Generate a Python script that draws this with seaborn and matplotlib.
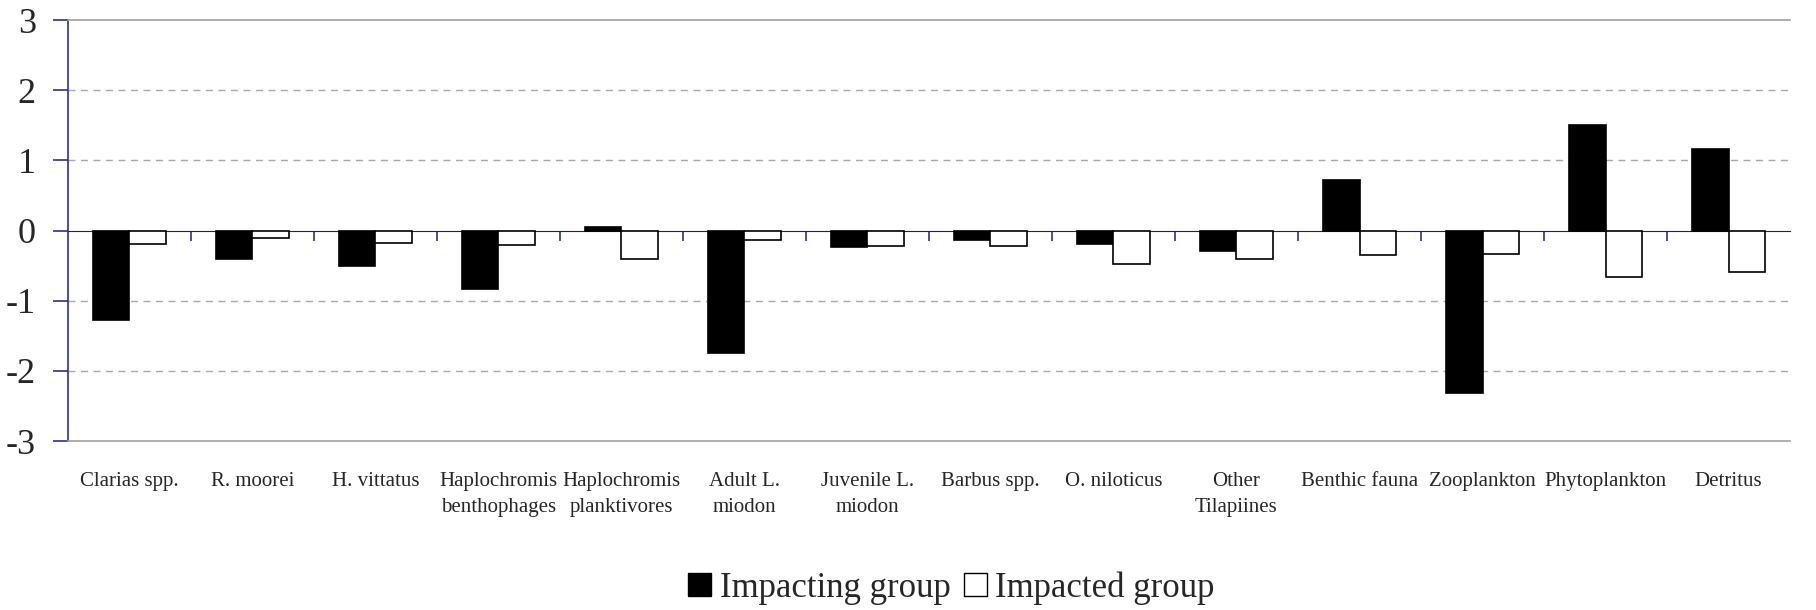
import matplotlib
matplotlib.use("Agg")
import matplotlib.pyplot as plt
import seaborn as sns
import pandas as pd
from matplotlib.patches import Patch

categories = ["Clarias spp.", "R. moorei", "H. vittatus", "Haplochromis\nbenthophages",
              "Haplochromis\nplanktivores", "Adult L.\nmiodon", "Juvenile L.\nmiodon",
              "Barbus spp.", "O. niloticus", "Other\nTilapiines", "Benthic fauna",
              "Zooplankton", "Phytoplankton", "Detritus"]
impacting = [-1.28, -0.41, -0.50, -0.83, 0.05, -1.75, -0.23, -0.13, -0.19, -0.29, 0.72, -2.31, 1.50, 1.17]
impacted = [-0.19, -0.10, -0.17, -0.21, -0.41, -0.14, -0.22, -0.22, -0.47, -0.41, -0.35, -0.33, -0.66, -0.59]
series_names = ["Impacting group", "Impacted group"]
yticks = [-3, -2, -1, 0, 1, 2, 3]

df = pd.DataFrame({
    "category": categories * 2,
    "value": impacting + impacted,
    "group": [series_names[0]] * len(categories) + [series_names[1]] * len(categories),
})

sns.set_style("white")
plt.rcParams["font.family"] = ["Liberation Serif", "DejaVu Serif"]

fig = plt.figure(figsize=(18.16, 6.10), dpi=100)
ax = fig.add_axes([0.0374, 0.277, 0.9483, 0.690])

sns.barplot(data=df, x="category", y="value", hue="group", order=categories,
            hue_order=series_names, palette=["black", "white"], edgecolor="black",
            linewidth=1.2, width=0.6, ax=ax, legend=False, zorder=3)

ax.set_ylim(-3, 3)
ax.set_xlim(-0.5, len(categories) - 0.5)
ax.set_yticks(yticks)
ax.set_yticklabels([str(t) for t in yticks], fontsize=26)
ax.set_xlabel("")
ax.set_ylabel("")

# grid
for t in yticks:
    if t not in (0, -3, 3):
        ax.axhline(t, color="#a8a8a8", lw=1.0, ls=(0, (5, 4)), zorder=1)

# spines
ax.spines["left"].set_color("#2e2e96")
ax.spines["left"].set_linewidth(1.2)
ax.spines["top"].set_color("#a0a0a0")
ax.spines["bottom"].set_color("#a0a0a0")
ax.spines["top"].set_linewidth(1.2)
ax.spines["bottom"].set_linewidth(1.2)
ax.spines["right"].set_visible(False)

ax.tick_params(axis="y", direction="out", length=11, width=1.2, color="#2e2e96", pad=12, left=True)
ax.tick_params(axis="x", length=0, pad=22, labelsize=15)
for lab in ax.get_xticklabels():
    lab.set_linespacing(1.55)
    lab.set_verticalalignment("top")

# zero line with category-boundary ticks
sec = ax.secondary_xaxis(0.5)
sec.set_xticks([i + 0.5 for i in range(len(categories) - 1)])
sec.set_xticklabels([])
sec.tick_params(direction="in", length=7, width=1.2, color="#2e2e96")
sec.spines["bottom"].set_color("#6a6ac4")
sec.spines["bottom"].set_linewidth(1.3)
sec.spines["bottom"].set_zorder(5)

handles = [Patch(facecolor="black", edgecolor="black", label=series_names[0]),
           Patch(facecolor="white", edgecolor="black", label=series_names[1])]
fig.legend(handles=handles, loc="center", bbox_to_anchor=(0.524, 0.036), ncol=2,
           frameon=False, fontsize=25, handlelength=0.65, handleheight=0.65,
           handletextpad=0.25, columnspacing=0.4)

fig.savefig("out.png", dpi=100)
